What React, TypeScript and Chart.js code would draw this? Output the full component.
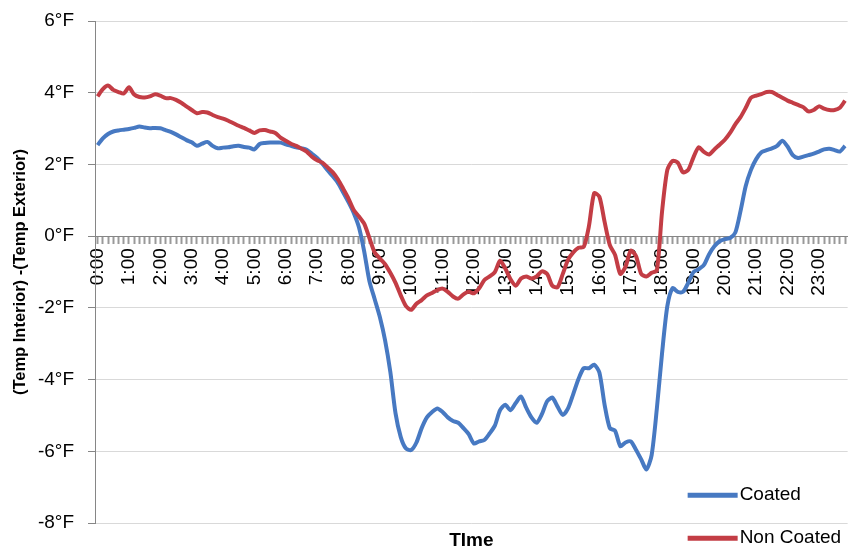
import React, { useEffect, useRef } from 'react';
import { Chart, registerables } from 'chart.js';

Chart.register(...registerables);

// ---------- data ----------
const hourLabels = [
  '0:00', '1:00', '2:00', '3:00', '4:00', '5:00', '6:00', '7:00', '8:00', '9:00', '10:00', '11:00',
  '12:00', '13:00', '14:00', '15:00', '16:00', '17:00', '18:00', '19:00', '20:00', '21:00', '22:00', '23:00',
];
const minuteMarks = ['00', '10', '20', '30', '40', '50'];
const categories = hourLabels.flatMap((h) => minuteMarks.map((m) => h.split(':')[0] + ':' + m));

const seriesNames = ['Coated', 'Non Coated'];

// one row per hour, 10-minute readings
const coated = [
  2.54, 2.73, 2.85, 2.92, 2.95, 2.97,
  2.99, 3.02, 3.06, 3.03, 3.01, 3.02,
  3.01, 2.96, 2.91, 2.84, 2.76, 2.68,
  2.62, 2.52, 2.58, 2.63, 2.52, 2.45,
  2.47, 2.48, 2.51, 2.52, 2.49, 2.47,
  2.42, 2.57, 2.60, 2.61, 2.61, 2.61,
  2.56, 2.52, 2.48, 2.45, 2.41, 2.30,
  2.18, 2.02, 1.84, 1.67, 1.48, 1.22,
  0.95, 0.65, 0.25, -0.42, -1.25, -1.75,
  -2.25, -2.90, -3.78, -4.94, -5.60, -5.92,
  -5.96, -5.75, -5.35, -5.05, -4.90, -4.80,
  -4.90, -5.05, -5.15, -5.20, -5.35, -5.52,
  -5.78, -5.72, -5.68, -5.50, -5.28, -4.85,
  -4.70, -4.85, -4.65, -4.47, -4.78, -5.05,
  -5.20, -4.96, -4.60, -4.50, -4.75, -4.98,
  -4.80, -4.40, -3.98, -3.68, -3.68, -3.58,
  -3.80, -4.70, -5.35, -5.42, -5.85, -5.75,
  -5.72, -5.95, -6.22, -6.50, -6.10, -4.80,
  -3.25, -1.95, -1.45, -1.55, -1.55, -1.30,
  -1.00, -0.92, -0.80, -0.50, -0.28, -0.14,
  -0.08, -0.05, 0.10, 0.70, 1.40, 1.85,
  2.15, 2.34, 2.40, 2.45, 2.52, 2.66,
  2.50, 2.26, 2.18, 2.22, 2.26, 2.30,
  2.36, 2.42, 2.44, 2.40, 2.36, 2.52,
];

const nonCoated = [
  3.90, 4.10, 4.20, 4.08, 4.02, 3.98,
  4.15, 3.95, 3.88, 3.87, 3.90, 3.96,
  3.92, 3.85, 3.85, 3.80, 3.72, 3.62,
  3.52, 3.43, 3.46, 3.45, 3.38, 3.32,
  3.28, 3.22, 3.15, 3.08, 3.02, 2.95,
  2.88, 2.95, 2.96, 2.92, 2.88, 2.75,
  2.66, 2.58, 2.52, 2.44, 2.36, 2.22,
  2.12, 2.05, 1.92, 1.78, 1.58, 1.32,
  1.05, 0.73, 0.55, 0.35, -0.05, -0.45,
  -0.62, -0.78, -1.02, -1.30, -1.65, -1.95,
  -2.05, -1.88, -1.78, -1.65, -1.58, -1.50,
  -1.46, -1.55, -1.68, -1.74, -1.62, -1.55,
  -1.59, -1.45, -1.22, -1.12, -1.00, -0.68,
  -0.90, -1.20, -1.38, -1.18, -1.12, -1.18,
  -1.12, -0.98, -1.05, -1.38, -1.42, -1.05,
  -0.66, -0.45, -0.32, -0.30, 0.28, 1.20,
  1.10, 0.40, -0.25, -0.52, -1.05, -0.85,
  -0.40, -0.55, -1.05, -1.12, -1.02, -0.95,
  0.70, 1.85, 2.10, 2.05, 1.78, 1.85,
  2.20, 2.48, 2.35, 2.28, 2.42, 2.55,
  2.69, 2.88, 3.12, 3.32, 3.58, 3.86,
  3.92, 3.96, 4.02, 4.02, 3.94, 3.86,
  3.78, 3.72, 3.66, 3.60, 3.48, 3.52,
  3.62, 3.56, 3.52, 3.52, 3.58, 3.78,
];

const yTickValues = [-8, -6, -4, -2, 0, 2, 4, 6];
const yUnit = '°F';
const xTitle = 'TIme';
const yTitle = '(Temp Interior) -(Temp Exterior)';

// ---------- styles ----------
const FONT = '"Liberation Sans", Arial, sans-serif';
const BLUE = '#4779C2';
const RED = '#C33D45';
const AXIS = '#868686';

const cornerLegend = {
  id: 'cornerLegend',
  afterDraw(chart: any) {
    const { ctx, chartArea } = chart;
    const x0 = chartArea.right - 160;
    const rows = [chartArea.bottom - 28, chartArea.bottom + 15];
    chart.data.datasets.forEach((ds: any, i: number) => {
      const y = rows[i];
      ctx.save();
      ctx.strokeStyle = ds.borderColor;
      ctx.lineWidth = 5;
      ctx.beginPath();
      ctx.moveTo(x0, y);
      ctx.lineTo(x0 + 50, y);
      ctx.stroke();
      ctx.fillStyle = '#000';
      ctx.font = '19px ' + FONT;
      ctx.textAlign = 'left';
      ctx.textBaseline = 'middle';
      ctx.fillText(ds.label, x0 + 52, y);
      ctx.restore();
    });
  },
};

export default function App() {
  const ref = useRef<HTMLCanvasElement | null>(null);

  useEffect(() => {
    document.body.style.margin = '0';
    const canvas = ref.current;
    if (!canvas) return;
    const chart = new Chart(canvas, {
      type: 'line',
      data: {
        labels: categories,
        datasets: [
          {
            label: seriesNames[0],
            data: coated,
            borderColor: BLUE,
            backgroundColor: BLUE,
            borderWidth: 4,
            pointRadius: 0,
            tension: 0.25,
            order: 1,
            xAxisID: 'x',
            yAxisID: 'y',
          },
          {
            label: seriesNames[1],
            data: nonCoated,
            borderColor: RED,
            backgroundColor: RED,
            borderWidth: 4,
            pointRadius: 0,
            tension: 0.25,
            order: 0,
            xAxisID: 'x',
            yAxisID: 'y',
          },
        ],
      },
      options: {
        responsive: false,
        maintainAspectRatio: false,
        animation: false,
        layout: { padding: { top: 21, right: 3, bottom: 0, left: 0 } },
        plugins: {
          legend: { display: false },
          tooltip: { enabled: false },
        },
        scales: {
          x: {
            type: 'category',
            position: { y: 0 } as any,
            offset: true,
            grid: {
              drawOnChartArea: false,
              drawTicks: true,
              tickLength: 7,
              tickColor: '#9a9a9a',
              tickWidth: 2,
            },
            border: { display: true, color: AXIS, width: 1 },
            ticks: {
              autoSkip: false,
              maxRotation: 90,
              minRotation: 90,
              padding: 5,
              color: '#000',
              font: { family: FONT, size: 19, lineHeight: 0.05 },
              callback: (_v: any, i: number) => (i % 6 === 0 ? categories[i] : ''),
            },
            afterFit: (s: any) => {
              s.height = 0;
            },
          },
          x2: {
            type: 'category',
            position: 'bottom',
            grid: { display: false, drawTicks: false },
            border: { display: false },
            ticks: { display: false },
            title: {
              display: true,
              text: xTitle,
              color: '#000',
              font: { family: FONT, size: 19, weight: 'bold' },
              padding: { top: 6, bottom: 0 },
            },
          },
          y: {
            type: 'linear',
            min: yTickValues[0],
            max: yTickValues[yTickValues.length - 1],
            ticks: {
              stepSize: yTickValues[1] - yTickValues[0],
              padding: 14,
              color: '#000',
              font: { family: FONT, size: 19, lineHeight: 0.3 },
              callback: (v: any) => v + yUnit,
            },
            grid: { color: '#d9d9d9', tickColor: AXIS, tickLength: 7, lineWidth: 1 },
            border: { color: AXIS, width: 1 },
            title: {
              display: true,
              text: yTitle,
              color: '#000',
              font: { family: FONT, size: 16.5, weight: 'bold' },
              padding: { top: 11, bottom: 0 },
            },
            afterFit: (s: any) => {
              s.width = 95;
            },
          },
        },
      } as any,
      plugins: [cornerLegend],
    });
    return () => chart.destroy();
  }, []);

  return (
    <div style={{ width: 851, height: 552, position: 'relative', background: '#fff' }}>
      <canvas ref={ref} width={851} height={552} style={{ display: 'block' }} />
    </div>
  );
}
